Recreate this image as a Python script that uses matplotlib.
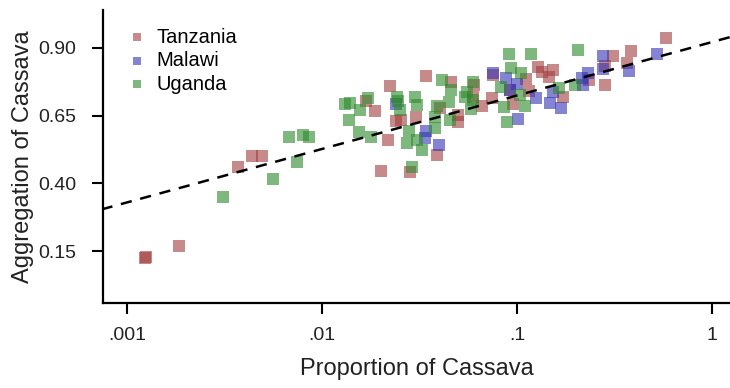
import numpy as np
import matplotlib.pyplot as plt
from matplotlib.ticker import FixedLocator, FixedFormatter, NullLocator

plt.rcParams['font.family'] = ['Liberation Sans', 'DejaVu Sans']

tz_x = [0.00124, 0.00126, 0.00185, 0.00372, 0.00436, 0.00494, 0.0341, 0.0222, 0.0168, 0.0187,
        0.0217, 0.0239, 0.0253, 0.0303, 0.0387, 0.0201, 0.0283, 0.0756, 0.1286, 0.1349,
        0.1535, 0.146, 0.1112, 0.0921, 0.1146, 0.0957, 0.1727, 0.0457, 0.0604, 0.0597,
        0.0742, 0.0659, 0.050, 0.050, 0.0403, 0.581, 0.312, 0.383, 0.365, 0.283,
        0.235, 0.281]
tz_y = [0.125, 0.127, 0.170, 0.459, 0.502, 0.502, 0.797, 0.759, 0.705, 0.668,
        0.560, 0.630, 0.634, 0.644, 0.505, 0.445, 0.443, 0.800, 0.831, 0.812,
        0.818, 0.792, 0.784, 0.745, 0.742, 0.692, 0.720, 0.775, 0.763, 0.718,
        0.716, 0.685, 0.652, 0.627, 0.677, 0.938, 0.870, 0.889, 0.843, 0.833,
        0.781, 0.763]

mw_x = [0.0239, 0.0341, 0.0337, 0.040, 0.0756, 0.0875, 0.1004, 0.0921, 0.1247, 0.1016,
        0.1477, 0.168, 0.1525, 0.520, 0.277, 0.375, 0.277, 0.232, 0.217, 0.215]
mw_y = [0.693, 0.594, 0.566, 0.543, 0.808, 0.788, 0.766, 0.745, 0.716, 0.636,
        0.698, 0.677, 0.738, 0.876, 0.870, 0.816, 0.821, 0.808, 0.763, 0.789]

ug_x = [0.0031, 0.00559, 0.00679, 0.00796, 0.00861, 0.00741, 0.0132, 0.0140, 0.01726, 0.0156,
        0.0137, 0.0155, 0.0178, 0.0242, 0.0251, 0.0245, 0.030, 0.0306, 0.0280, 0.0274,
        0.0308, 0.0327, 0.0387, 0.0379, 0.0288, 0.0914, 0.118, 0.0929, 0.105, 0.0825,
        0.1036, 0.110, 0.0858, 0.0885, 0.165, 0.206, 0.0411, 0.0457, 0.0597, 0.0552,
        0.0541, 0.0597, 0.058, 0.0448, 0.0453, 0.0379, 0.198]
ug_y = [0.350, 0.416, 0.570, 0.578, 0.570, 0.480, 0.693, 0.697, 0.716, 0.671,
        0.634, 0.591, 0.570, 0.720, 0.671, 0.704, 0.718, 0.689, 0.594, 0.548,
        0.560, 0.523, 0.687, 0.646, 0.460, 0.876, 0.876, 0.827, 0.808, 0.757,
        0.726, 0.687, 0.681, 0.627, 0.751, 0.894, 0.781, 0.745, 0.775, 0.738,
        0.720, 0.708, 0.673, 0.701, 0.634, 0.603, 0.763]

# fitted line: y = a + b * log10(x)
fit_a = 0.922
fit_b = 0.1975

fig = plt.figure(figsize=(7.3, 3.88), dpi=100)
ax = fig.add_axes([0.141, 0.219, 0.859, 0.755])

ax.scatter(tz_x, tz_y, marker='s', s=72, color='#a23c3c', alpha=0.6, linewidths=0, label='Tanzania')
ax.scatter(mw_x, mw_y, marker='s', s=72, color='#3232b4', alpha=0.6, linewidths=0, label='Malawi')
ax.scatter(ug_x, ug_y, marker='s', s=72, color='#2a8a2a', alpha=0.6, linewidths=0, label='Uganda')

xl = np.array([10 ** -3.13, 10 ** 0.1])
ax.plot(xl, fit_a + fit_b * np.log10(xl), color='black', lw=1.8, ls=(0, (4.5, 3.5)))

ax.set_xscale('log')
ax.set_xlim(10 ** -3.123, 10 ** 0.092)
ax.set_ylim(-0.042, 1.04)

ax.xaxis.set_major_locator(FixedLocator([0.001, 0.01, 0.1, 1]))
ax.xaxis.set_major_formatter(FixedFormatter(['.001', '.01', '.1', '1']))
ax.xaxis.set_minor_locator(NullLocator())
ax.set_yticks([0.15, 0.40, 0.65, 0.90])
ax.set_yticklabels(['0.15', '0.40', '0.65', '0.90'])

for s in ['top', 'right']:
    ax.spines[s].set_visible(False)
for s in ['left', 'bottom']:
    ax.spines[s].set_linewidth(1.6)
ax.tick_params(axis='both', direction='out', length=8, width=1.5, labelsize=14,
               labelcolor='#222222')
ax.tick_params(axis='y', pad=11)
ax.tick_params(axis='x', pad=9)

ax.set_xlabel('Proportion of Cassava', fontsize=17, color='#222222', labelpad=10)
ax.set_ylabel('Aggregation of Cassava', fontsize=17, color='#222222', labelpad=3)

leg = ax.legend(loc='upper left', bbox_to_anchor=(0.041, 0.94), frameon=False, fontsize=14.5,
                handlelength=0.8, handletextpad=0.6, labelspacing=0.22, markerscale=0.75,
                borderaxespad=0, borderpad=0)

plt.savefig('out.png', dpi=100)
